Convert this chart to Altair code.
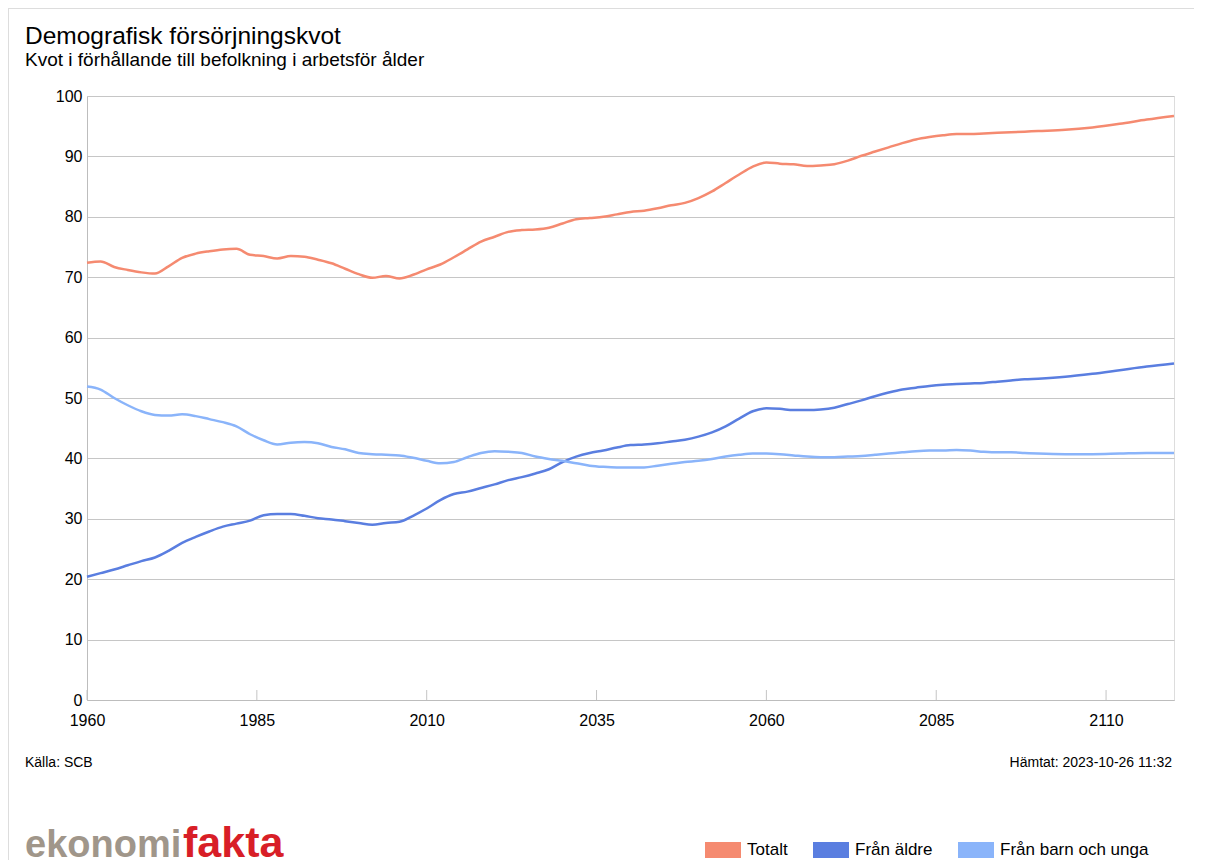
import altair as alt
import pandas as pd

FONT = "Liberation Sans"

years = [1960, 1962, 1964, 1966, 1968, 1970, 1972, 1974, 1976, 1978,
         1980, 1982, 1984, 1986, 1988, 1990, 1992, 1994, 1996, 1998,
         2000, 2002, 2004, 2006, 2008, 2010, 2012, 2014, 2016, 2018,
         2020, 2022, 2024, 2026, 2028, 2030, 2032, 2034, 2036, 2038,
         2040, 2042, 2044, 2046, 2048, 2050, 2052, 2054, 2056, 2058,
         2060, 2062, 2064, 2066, 2068, 2070, 2072, 2074, 2076, 2078,
         2080, 2082, 2084, 2086, 2088, 2090, 2092, 2094, 2096, 2098,
         2100, 2104, 2108, 2112, 2116, 2120]

totalt = [72.4, 72.6, 71.7, 71.2, 70.8, 70.6, 71.8, 73.2, 73.9, 74.3,
          74.6, 74.7, 73.7, 73.5, 73.1, 73.5, 73.4, 72.9, 72.3, 71.4,
          70.5, 69.9, 70.2, 69.8, 70.4, 71.3, 72.1, 73.3, 74.6, 75.9,
          76.7, 77.5, 77.8, 77.9, 78.2, 78.9, 79.6, 79.8, 80.0, 80.4,
          80.8, 81.0, 81.4, 81.9, 82.3, 83.1, 84.2, 85.6, 87.0, 88.3,
          89.0, 88.8, 88.7, 88.4, 88.5, 88.7, 89.3, 90.1, 90.8, 91.5,
          92.2, 92.8, 93.2, 93.5, 93.7, 93.7, 93.8, 93.9, 94.0, 94.1,
          94.2, 94.4, 94.8, 95.4, 96.1, 96.7]

fran_aldre = [20.4, 21.0, 21.6, 22.3, 23.0, 23.6, 24.7, 26.0, 27.0, 27.9,
              28.7, 29.2, 29.7, 30.6, 30.8, 30.8, 30.5, 30.1, 29.9, 29.6,
              29.3, 29.0, 29.3, 29.5, 30.5, 31.7, 33.1, 34.1, 34.5, 35.1,
              35.7, 36.4, 36.9, 37.5, 38.2, 39.4, 40.3, 40.9, 41.3, 41.8,
              42.2, 42.3, 42.5, 42.8, 43.1, 43.6, 44.3, 45.3, 46.6, 47.8,
              48.3, 48.2, 48.0, 48.0, 48.1, 48.4, 49.0, 49.6, 50.3, 50.9,
              51.4, 51.7, 52.0, 52.2, 52.3, 52.4, 52.5, 52.7, 52.9, 53.1,
              53.2, 53.5, 54.0, 54.6, 55.2, 55.7]

fran_barn = [51.9, 51.4, 50.0, 48.8, 47.8, 47.2, 47.1, 47.3, 47.0, 46.5,
             46.0, 45.3, 44.0, 43.0, 42.3, 42.6, 42.7, 42.5, 41.9, 41.5,
             40.9, 40.7, 40.6, 40.5, 40.1, 39.6, 39.2, 39.4, 40.2, 40.9,
             41.2, 41.1, 40.9, 40.3, 39.9, 39.6, 39.2, 38.8, 38.6, 38.5,
             38.5, 38.5, 38.8, 39.1, 39.4, 39.6, 39.9, 40.3, 40.6, 40.8,
             40.8, 40.7, 40.5, 40.3, 40.2, 40.2, 40.3, 40.4, 40.6, 40.8,
             41.0, 41.2, 41.3, 41.3, 41.4, 41.3, 41.1, 41.0, 41.0, 40.9,
             40.8, 40.7, 40.7, 40.8, 40.9, 40.9]

series_names = ["Totalt", "Från äldre", "Från barn och unga"]
series_colors = ["#f58a70", "#5a7ee0", "#8ab4fa"]
x_ticks = [1960, 1985, 2010, 2035, 2060, 2085, 2110]
y_ticks = [0, 10, 20, 30, 40, 50, 60, 70, 80, 90, 100]

title_text = "Demografisk försörjningskvot"
subtitle_text = "Kvot i förhållande till befolkning i arbetsför ålder"
source_text = "Källa: SCB"
fetched_text = "Hämtat: 2023-10-26 11:32"
logo_a = "ekonomi"
logo_b = "fakta"

rows = []
for name, vals in zip(series_names, [totalt, fran_aldre, fran_barn]):
    for yr, v in zip(years, vals):
        rows.append({"År": yr, "Kvot": v, "Serie": name})
df = pd.DataFrame(rows)

W, H = 1087, 604
x_scale = alt.Scale(domain=[1960, 2120], nice=False, zero=False)
y_scale = alt.Scale(domain=[0, 100], nice=False)

x_axis = alt.Axis(values=x_ticks, format="d", title=None, grid=False,
                  ticks=False, labelFontSize=16, labelPadding=12,
                  domainColor="#bdbdbd", labelColor="#000",
                  labelFont=FONT, labelFlush=False)

lines = alt.Chart(df).mark_line(interpolate="monotone").encode(
    x=alt.X("År:Q", scale=x_scale, axis=x_axis),
    y=alt.Y("Kvot:Q", scale=y_scale,
            axis=alt.Axis(values=y_ticks, title=None, grid=True,
                          gridColor="#c6c6c6", ticks=False, labelPadding=5,
                          labelFontSize=16, labelColor="#000", labelFont=FONT,
                          domainColor="#bdbdbd")),
    strokeWidth=alt.value(2.5),
    color=alt.Color("Serie:N",
                    scale=alt.Scale(domain=series_names, range=series_colors),
                    sort=series_names,
                    legend=alt.Legend(title=None, orient="none", legendX=610,
                                      legendY=728, direction="horizontal",
                                      symbolType="stroke", symbolSize=1296,
                                      symbolStrokeWidth=16, labelFontSize=17,
                                      labelFont=FONT, labelColor="#000",
                                      labelOffset={"expr": "-2"},
                                      columnPadding={"expr": "-7"},
                                      symbolOpacity=1)),
)

ticks_df = pd.DataFrame({"År": x_ticks})
tick_marks = alt.Chart(ticks_df).mark_rule(color="#c4c4c4", strokeWidth=1).encode(
    x=alt.X("År:Q", scale=x_scale, axis=x_axis),
    y=alt.value(H - 10),
    y2=alt.value(H),
)

one = pd.DataFrame({"k": [0]})


def txt(text, x, y, size, align="left", color="#000", weight="normal"):
    return alt.Chart(one).mark_text(
        align=align, baseline="alphabetic", fontSize=size, font=FONT,
        color=color, fontWeight=weight, text=text
    ).encode(x=alt.value(x), y=alt.value(y))


title = txt(title_text, -62, -52, 24.5)
subtitle = txt(subtitle_text, -62, -30, 19)
source = txt(source_text, -62, 671, 14)
fetched = txt(fetched_text, 1085, 671, 14, align="right")
logo1 = txt(logo_a, -62, 761, 38, color="#a0968a", weight="bold")
logo2 = txt(logo_b, 96, 761, 43, color="#d81e27", weight="bold")

border_left = alt.Chart(one).mark_rule(color="#dddddd", strokeWidth=1).encode(
    x=alt.value(-78.5), y=alt.value(-88), y2=alt.value(H + 160))
border_top = alt.Chart(one).mark_rule(color="#dddddd", strokeWidth=1).encode(
    x=alt.value(-79), x2=alt.value(W + 20), y=alt.value(-87.5))

chart = alt.layer(
    lines, tick_marks, border_left, border_top,
    title, subtitle, source, fetched, logo1, logo2
).properties(
    width=W, height=H,
    autosize=alt.AutoSizeParams(type="none"),
    padding={"left": 79, "top": 88, "right": 20, "bottom": 160},
    background="white",
).configure_view(strokeWidth=0).configure(font=FONT)

chart.save("out.html", embed_options={"renderer": "svg", "actions": False})
